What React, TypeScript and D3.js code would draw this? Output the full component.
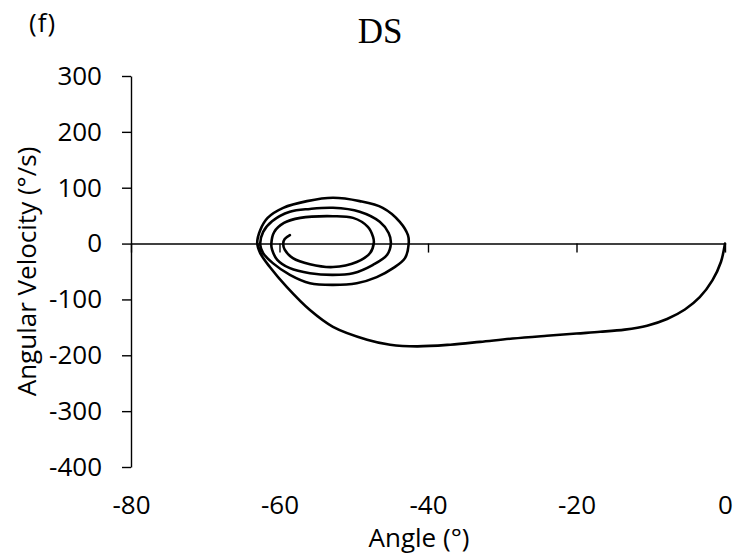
import React, { useRef, useEffect } from "react";
import * as d3 from "d3";

// phase portrait trace (start at 0°, spiral inward)
const angleDeg = [
	0, -0.55, -1.7, -3.4, -5.4, -7.8, -10.5, -13.5, -16.8, -20.0, -24.0, -28.6, -33.0, -37.0, -41.5, -45.1, -48.2, -52.8, -55.9, -59.0, -61.3, -62.6, -63.0,
	-62.6, -61.6, -59.5, -56.3, -52.8, -49.2, -46.1, -43.8, -42.7, -42.6,
	-43.1, -44.7, -46.9, -49.6, -52.8, -55.9, -58.6, -60.9, -62.2, -62.6,
	-62.2, -61.0, -58.6, -55.9, -52.8, -49.2, -46.5, -45.3, -45.0,
	-45.5, -47.4, -50.1, -52.8, -55.9, -58.6, -60.3, -61.0, -61.1,
	-60.7, -59.4, -57.2, -52.8, -50.1, -48.1, -47.4, -47.3,
	-47.8, -49.6, -52.8, -55.9, -58.2, -59.3, -59.5, -59.3, -58.6,
];

const velocityDegS = [
	0, -33, -66, -96, -118, -135, -147, -154, -158, -161, -165, -170, -176, -181, -184, -181, -172, -149, -119, -78, -42, -17, 1,
	24, 46, 64, 76, 82, 76, 64, 39, 15, 0,
	-26, -44, -60, -71, -74, -71, -56, -35, -17, -2,
	21, 40, 57, 62, 64, 57, 39, 19, 1,
	-20, -38, -53, -56, -53, -44, -29, -11, 0,
	21, 37, 46, 49, 46, 30, 12, 1,
	-17, -33, -42, -37, -26, -11, 0, 8, 15,
];

const xTicks = [-80, -60, -40, -20, 0];
const yTicks = [-400, -300, -200, -100, 0, 100, 200, 300];

const chartTitle = "DS";
const panelTag = "(f)";
const xLabel = "Angle (°)";
const yLabel = "Angular Velocity (°/s)";

const FONT = "'Open Sans', 'Noto Sans', sans-serif";

// plain hyphen for negatives, like the original
const fmt = (d: d3.NumberValue) => String(d);

const App = () => {
	const chartRef = useRef<SVGSVGElement>(null);

	useEffect(() => {
		const width = 738;
		const height = 559;
		const margin = { top: 76, right: 13, bottom: 92, left: 131 };

		const svg = d3.select(chartRef.current);
		svg.selectAll("*").remove();
		svg.attr("width", width).attr("height", height);

		const x = d3.scaleLinear().domain([-80, 0]).range([margin.left, width - margin.right]);
		const y = d3.scaleLinear().domain([-400, 300]).range([height - margin.bottom, margin.top]);

		// y axis on the left
		const yAxis = svg
			.append("g")
			.attr("transform", `translate(${x(-80)},0)`)
			.call(d3.axisLeft(y).tickValues(yTicks).tickSize(9).tickSizeOuter(0).tickPadding(20).tickFormat(fmt));
		yAxis.selectAll("path, line").attr("stroke", "#000").attr("stroke-width", 1.4);
		yAxis.selectAll("text")
			.attr("font-family", FONT)
			.attr("font-size", 26)
			.attr("fill", "#000");

		// x axis line crosses at 0
		const xAxis = svg
			.append("g")
			.attr("transform", `translate(0,${y(0)})`)
			.call(d3.axisBottom(x).tickValues(xTicks).tickSize(9).tickSizeOuter(0).tickFormat(() => ""));
		xAxis.selectAll("path, line").attr("stroke", "#000").attr("stroke-width", 1.4);

		// x tick labels sit low, under the plot
		const xLabels = svg
			.append("g")
			.attr("transform", `translate(0,${y(-400)})`)
			.call(d3.axisBottom(x).tickValues(xTicks).tickSize(0).tickPadding(29).tickFormat(fmt));
		xLabels.select(".domain").remove();
		xLabels.selectAll("text")
			.attr("font-family", FONT)
			.attr("font-size", 26)
			.attr("fill", "#000");

		// trace
		const pts: [number, number][] = angleDeg.map((a, i) => [a, velocityDegS[i]]);
		const line = d3
			.line<[number, number]>()
			.x(d => x(d[0]))
			.y(d => y(d[1]))
			.curve(d3.curveCatmullRom.alpha(0.5));

		svg
			.append("path")
			.datum(pts)
			.attr("d", line)
			.attr("fill", "none")
			.attr("stroke", "#000")
			.attr("stroke-width", 2.6)
			.attr("stroke-linejoin", "round")
			.attr("stroke-linecap", "round");

		// titles
		svg
			.append("text")
			.attr("x", 380)
			.attr("y", 43)
			.attr("text-anchor", "middle")
			.attr("font-family", "'Liberation Serif', 'Times New Roman', serif")
			.attr("font-size", 35)
			.attr("fill", "#000")
			.text(chartTitle);

		svg
			.append("text")
			.attr("x", 29)
			.attr("y", 32)
			.attr("font-family", FONT)
			.attr("font-size", 26)
			.attr("letter-spacing", 1)
			.attr("fill", "#000")
			.text(panelTag);

		svg
			.append("text")
			.attr("x", 419)
			.attr("y", 547)
			.attr("text-anchor", "middle")
			.attr("font-family", FONT)
			.attr("font-size", 26)
			.attr("fill", "#000")
			.text(xLabel);

		svg
			.append("text")
			.attr("transform", `translate(36,${(y(300) + y(-400)) / 2}) rotate(-90)`)
			.attr("text-anchor", "middle")
			.attr("font-family", FONT)
			.attr("font-size", 26)
			.attr("fill", "#000")
			.text(yLabel);
	}, []);

	return (
		<div style={{ position: "absolute", left: 0, top: 0, width: 738, height: 559, background: "#fff" }}>
			<svg ref={chartRef} style={{ display: "block" }}></svg>
		</div>
	);
};

export default App;
